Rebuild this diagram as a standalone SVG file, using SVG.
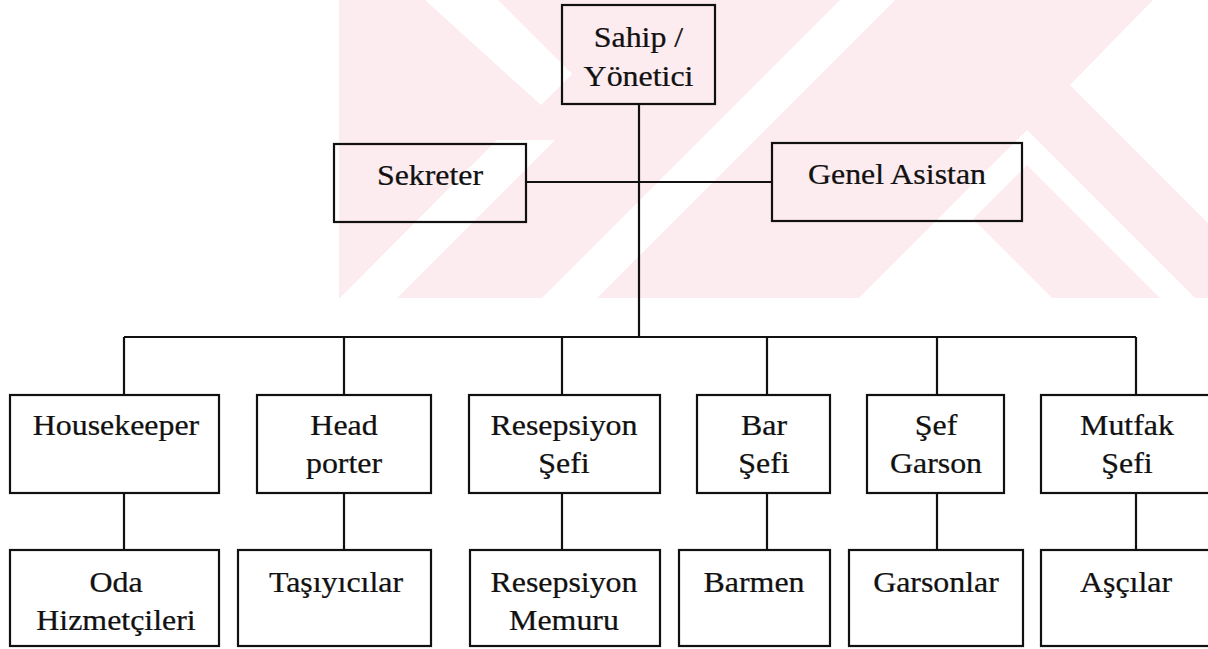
<svg xmlns="http://www.w3.org/2000/svg" width="1208" height="649" viewBox="0 0 1208 649">
  <style>
    .box { fill: none; stroke: #111; stroke-width: 2.2; }
    .wire { fill: none; stroke: #111; stroke-width: 2.2; }
    .lbl { font-family: "Liberation Serif", "Times New Roman", serif; font-size: 29px; fill: #111; stroke: #111; stroke-width: 0.25; text-anchor: middle; }
    .wm { fill: #fdecef; }
    .cut { fill: #ffffff; }
  </style>
  <defs>
    <clipPath id="wmClip">
      <rect x="339" y="0" width="869" height="298"/>
    </clipPath>
  </defs>

  <rect width="1208" height="649" fill="#ffffff"/>

  <!-- pale background emblem -->
  <g id="emblem" clip-path="url(#wmClip)">
    <rect class="wm" x="339" y="0" width="869" height="298"/>
    <polygon class="cut" points="425,0 498,0 572,74 541,105"/>
    <polygon class="cut" points="1153,0 1230,0 1230,245 1070,85"/>
    <polygon class="cut" points="957,203 1052,298 862,298"/>
    <polygon class="cut" points="840,0 895,0 597,298 542,298"/>
    <polygon class="cut" points="497,140 555,140 397,298 340,298"/>
    <polygon class="cut" points="1027,130 1195,298 1160,298 1027,165 894,298 859,298"/>
  </g>

  <!-- connectors -->
  <g id="connectors">
    <line class="wire" x1="639" y1="104" x2="639" y2="337"/>
    <line class="wire" x1="526" y1="182" x2="772" y2="182"/>
    <line class="wire" x1="124" y1="337" x2="1136" y2="337"/>
    <line class="wire" x1="124" y1="337" x2="124" y2="395"/>
    <line class="wire" x1="344" y1="337" x2="344" y2="395"/>
    <line class="wire" x1="562" y1="337" x2="562" y2="395"/>
    <line class="wire" x1="767" y1="337" x2="767" y2="395"/>
    <line class="wire" x1="937" y1="337" x2="937" y2="395"/>
    <line class="wire" x1="1136" y1="337" x2="1136" y2="395"/>
    <line class="wire" x1="124" y1="493" x2="124" y2="550"/>
    <line class="wire" x1="344" y1="493" x2="344" y2="550"/>
    <line class="wire" x1="562" y1="493" x2="562" y2="550"/>
    <line class="wire" x1="767" y1="493" x2="767" y2="550"/>
    <line class="wire" x1="937" y1="493" x2="937" y2="550"/>
    <line class="wire" x1="1136" y1="493" x2="1136" y2="550"/>
  </g>

  <g id="sahip">
    <rect class="box" x="562" y="5" width="153" height="99"/>
    <text class="lbl" transform="translate(638.5,47) scale(1.1,1)">Sahip /</text>
    <text class="lbl" transform="translate(638.5,86) scale(1.1,1)">Yönetici</text>
  </g>
  <g id="sekreter">
    <rect class="box" x="334" y="144" width="192" height="78"/>
    <text class="lbl" transform="translate(430,185) scale(1.1,1)">Sekreter</text>
  </g>
  <g id="genel-asistan">
    <rect class="box" x="772" y="143" width="250" height="78"/>
    <text class="lbl" transform="translate(897,184) scale(1.1,1)">Genel Asistan</text>
  </g>

  <g id="housekeeper">
    <rect class="box" x="10" y="395" width="209" height="98"/>
    <text class="lbl" transform="translate(116,435) scale(1.1,1)">Housekeeper</text>
  </g>
  <g id="head-porter">
    <rect class="box" x="257" y="395" width="174" height="98"/>
    <text class="lbl" transform="translate(344,435) scale(1.1,1)">Head</text>
    <text class="lbl" transform="translate(344,473) scale(1.1,1)">porter</text>
  </g>
  <g id="resepsiyon-sefi">
    <rect class="box" x="469" y="395" width="191" height="98"/>
    <text class="lbl" transform="translate(564,435) scale(1.1,1)">Resepsiyon</text>
    <text class="lbl" transform="translate(564,473) scale(1.1,1)">Şefi</text>
  </g>
  <g id="bar-sefi">
    <rect class="box" x="697" y="395" width="133" height="98"/>
    <text class="lbl" transform="translate(764,435) scale(1.1,1)">Bar</text>
    <text class="lbl" transform="translate(764,473) scale(1.1,1)">Şefi</text>
  </g>
  <g id="sef-garson">
    <rect class="box" x="867" y="395" width="137" height="98"/>
    <text class="lbl" transform="translate(936,435) scale(1.1,1)">Şef</text>
    <text class="lbl" transform="translate(936,473) scale(1.1,1)">Garson</text>
  </g>
  <g id="mutfak-sefi">
    <rect class="box" x="1041" y="395" width="170" height="98"/>
    <text class="lbl" transform="translate(1127,435) scale(1.1,1)">Mutfak</text>
    <text class="lbl" transform="translate(1127,473) scale(1.1,1)">Şefi</text>
  </g>

  <g id="oda-hizmetcileri">
    <rect class="box" x="10" y="550" width="209" height="96"/>
    <text class="lbl" transform="translate(116,592) scale(1.1,1)">Oda</text>
    <text class="lbl" transform="translate(116,630) scale(1.1,1)">Hizmetçileri</text>
  </g>
  <g id="tasiyicilar">
    <rect class="box" x="238" y="550" width="193" height="96"/>
    <text class="lbl" transform="translate(336,592) scale(1.1,1)">Taşıyıcılar</text>
  </g>
  <g id="resepsiyon-memuru">
    <rect class="box" x="470" y="550" width="190" height="96"/>
    <text class="lbl" transform="translate(564,592) scale(1.1,1)">Resepsiyon</text>
    <text class="lbl" transform="translate(564,630) scale(1.1,1)">Memuru</text>
  </g>
  <g id="barmen">
    <rect class="box" x="679" y="550" width="151" height="96"/>
    <text class="lbl" transform="translate(754,592) scale(1.1,1)">Barmen</text>
  </g>
  <g id="garsonlar">
    <rect class="box" x="849" y="550" width="174" height="96"/>
    <text class="lbl" transform="translate(936,592) scale(1.1,1)">Garsonlar</text>
  </g>
  <g id="ascilar">
    <rect class="box" x="1041" y="550" width="170" height="96"/>
    <text class="lbl" transform="translate(1126,592) scale(1.1,1)">Aşçılar</text>
  </g>
</svg>
